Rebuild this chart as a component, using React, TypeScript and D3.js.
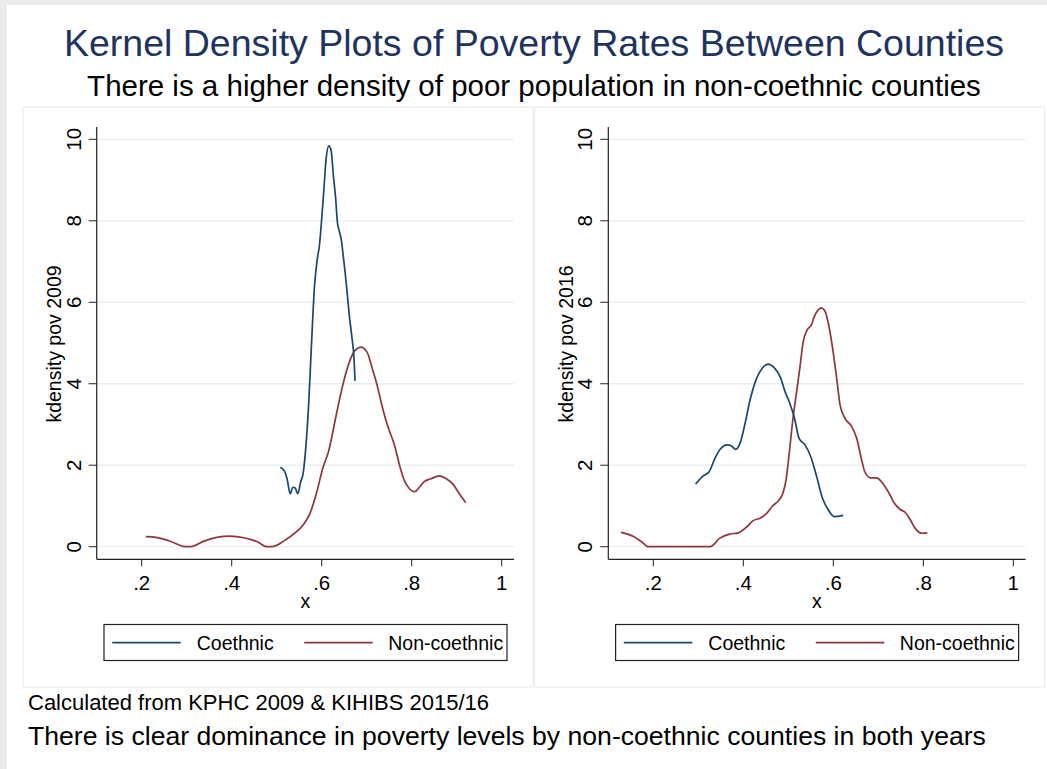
import React from "react";
import * as d3 from "d3";

const titleText = "Kernel Density Plots of Poverty Rates Between Counties";
const subtitleText = "There is a higher density of poor population in non-coethnic counties";
const noteText = "Calculated from KPHC 2009 & KIHIBS 2015/16";
const captionText = "There is clear dominance in poverty levels by non-coethnic counties in both years";

const xTicks = [0.2, 0.4, 0.6, 0.8, 1];
const xTickLabels = [".2", ".4", ".6", ".8", "1"];
const yTicks = [0, 2, 4, 6, 8, 10];
const seriesNames = ["Coethnic", "Non-coethnic"];
const panelYTitles = ["kdensity pov 2009", "kdensity pov 2016"];

const left2009CoethnicX = [0.508, 0.517, 0.523, 0.53, 0.536, 0.541, 0.547, 0.553, 0.559, 0.565, 0.571, 0.577, 0.584, 0.59, 0.595, 0.6, 0.605, 0.61, 0.616, 0.621, 0.626, 0.631, 0.635, 0.639, 0.644, 0.648, 0.652, 0.657, 0.661, 0.667, 0.672, 0.674];
const left2009CoethnicY = [1.95, 1.86, 1.67, 1.3, 1.46, 1.44, 1.3, 1.58, 1.82, 2.48, 3.5, 4.9, 6.4, 7.05, 7.4, 8.05, 8.8, 9.55, 9.84, 9.72, 9.1, 8.55, 7.95, 7.75, 7.5, 7.12, 6.74, 6.18, 5.71, 5.15, 4.58, 4.07];

const left2009NonX = [0.209, 0.232, 0.262, 0.292, 0.301, 0.313, 0.337, 0.367, 0.396, 0.427, 0.457, 0.478, 0.49, 0.517, 0.544, 0.56, 0.574, 0.588, 0.603, 0.615, 0.633, 0.648, 0.663, 0.674, 0.687, 0.701, 0.712, 0.723, 0.734, 0.742, 0.749, 0.761, 0.774, 0.783, 0.79, 0.798, 0.807, 0.817, 0.828, 0.843, 0.861, 0.877, 0.892, 0.906, 0.92];
const left2009NonY = [0.25, 0.23, 0.14, 0.01, 0.0, 0.01, 0.13, 0.23, 0.26, 0.22, 0.12, 0.0, 0.0, 0.15, 0.37, 0.55, 0.82, 1.3, 1.95, 2.33, 3.27, 4.02, 4.58, 4.82, 4.9, 4.77, 4.39, 3.97, 3.46, 3.13, 2.89, 2.52, 1.96, 1.64, 1.5, 1.39, 1.35, 1.46, 1.6, 1.67, 1.74, 1.67, 1.53, 1.3, 1.08];

const right2016CoethnicX = [0.294, 0.311, 0.324, 0.337, 0.35, 0.364, 0.374, 0.383, 0.394, 0.404, 0.415, 0.428, 0.442, 0.456, 0.468, 0.482, 0.493, 0.502, 0.513, 0.524, 0.537, 0.55, 0.563, 0.576, 0.589, 0.602, 0.622];
const right2016CoethnicY = [1.54, 1.74, 1.84, 2.17, 2.41, 2.5, 2.47, 2.39, 2.58, 3.03, 3.6, 4.09, 4.38, 4.48, 4.4, 4.17, 3.8, 3.56, 3.19, 2.66, 2.5, 2.21, 1.72, 1.19, 0.9, 0.74, 0.77];

const right2016NonX = [0.128, 0.156, 0.174, 0.189, 0.326, 0.348, 0.37, 0.389, 0.408, 0.422, 0.437, 0.452, 0.465, 0.478, 0.488, 0.495, 0.502, 0.51, 0.519, 0.526, 0.533, 0.542, 0.552, 0.557, 0.565, 0.573, 0.581, 0.589, 0.599, 0.608, 0.615, 0.626, 0.641, 0.652, 0.663, 0.67, 0.683, 0.696, 0.711, 0.726, 0.735, 0.748, 0.76, 0.771, 0.782, 0.797, 0.809];
const right2016NonY = [0.35, 0.25, 0.12, 0.0, 0.0, 0.21, 0.31, 0.34, 0.49, 0.64, 0.7, 0.82, 1.0, 1.13, 1.31, 1.64, 2.29, 3.11, 3.85, 4.42, 5.03, 5.32, 5.46, 5.63, 5.79, 5.86, 5.79, 5.48, 4.83, 4.09, 3.48, 3.15, 2.95, 2.66, 2.13, 1.84, 1.69, 1.69, 1.54, 1.27, 1.08, 0.92, 0.84, 0.66, 0.45, 0.33, 0.34];

const BLUE = "#1a476f";
const RED = "#90353b";
const FONT = "'Liberation Sans', Arial, Helvetica, sans-serif";

function zip(xs: number[], ys: number[]): [number, number][] {
  return xs.map((x, i) => [x, ys[i]]);
}

function Panel({ ox, yTitle, blue, red }: { ox: number; yTitle: string; blue: [number, number][]; red: [number, number][] }) {
  const x = d3.scaleLinear().domain([0.1, 1.0273]).range([ox + 96.7, ox + 514]);
  const y = d3.scaleLinear().domain([-0.309, 10.302]).range([559.3, 127]);
  const line = d3
    .line<[number, number]>()
    .x((d) => x(d[0]))
    .y((d) => y(d[1]))
    .curve(d3.curveMonotoneX);
  const [x0, x1] = x.range();
  const [yb, yt] = y.range();
  const legX = x0;
  return (
    <g>
      <rect x={ox + 23} y={107} width={510} height={580} fill="#ffffff" stroke="#e3ebee" strokeWidth={1} />
      {yTicks.map((t) => (
        <line key={"g" + t} x1={x0} x2={x1} y1={y(t)} y2={y(t)} stroke="#e8f0f2" strokeWidth={1.3} />
      ))}
      <line x1={x0} x2={x0} y1={yt} y2={yb} stroke="#222" strokeWidth={1.2} />
      <line x1={x0} x2={x1} y1={yb} y2={yb} stroke="#222" strokeWidth={1.2} />
      {yTicks.map((t) => (
        <g key={"yt" + t}>
          <line x1={x0 - 8} x2={x0} y1={y(t)} y2={y(t)} stroke="#222" strokeWidth={1} />
          <text
            transform={`translate(${x0 - 16},${y(t)}) rotate(-90)`}
            textAnchor="middle"
            fontSize={20.5}
            fontFamily={FONT}
            fill="#000"
          >
            {t}
          </text>
        </g>
      ))}
      {xTicks.map((t, i) => (
        <g key={"xt" + t}>
          <line x1={x(t)} x2={x(t)} y1={yb} y2={yb + 7} stroke="#222" strokeWidth={1} />
          <text x={x(t)} y={590} textAnchor="middle" fontSize={20.5} fontFamily={FONT} fill="#000">
            {xTickLabels[i]}
          </text>
        </g>
      ))}
      <text x={(x0 + x1) / 2} y={608} textAnchor="middle" fontSize={19.5} fontFamily={FONT} fill="#000">
        x
      </text>
      <text
        transform={`translate(${ox + 61},344) rotate(-90)`}
        textAnchor="middle"
        fontSize={19.5}
        fontFamily={FONT}
        fill="#000"
      >
        {yTitle}
      </text>
      <path d={line(red) || ""} fill="none" stroke={RED} strokeWidth={1.7} strokeLinejoin="round" />
      <path d={line(blue) || ""} fill="none" stroke={BLUE} strokeWidth={1.7} strokeLinejoin="round" />
      <rect x={legX + 7.3} y={624.5} width={403} height={36} fill="#fff" stroke="#222" strokeWidth={1.2} />
      <line x1={legX + 15.5} x2={legX + 84} y1={642.6} y2={642.6} stroke={BLUE} strokeWidth={1.7} />
      <text x={legX + 138.5} y={649.5} textAnchor="middle" fontSize={19.5} fontFamily={FONT} fill="#000">
        {seriesNames[0]}
      </text>
      <line x1={legX + 207.5} x2={legX + 276} y1={642.6} y2={642.6} stroke={RED} strokeWidth={1.7} />
      <text x={legX + 349} y={649.5} textAnchor="middle" fontSize={19.5} fontFamily={FONT} fill="#000">
        {seriesNames[1]}
      </text>
    </g>
  );
}

export default function App() {
  const W = 1047;
  const H = 769;
  return (
    <svg width={W} height={H} style={{ position: "absolute", left: 0, top: 0, background: "#fff" }}>
      <rect x={0} y={0} width={W} height={H} fill="#ffffff" />
      <rect x={0} y={0} width={7} height={H} fill="#ebebeb" />
      <rect x={0} y={0} width={W} height={5} fill="#ebebeb" />
      <text x={534} y={56} textAnchor="middle" fontSize={37.5} fontFamily={FONT} fill="#1f3361">
        {titleText}
      </text>
      <text x={534} y={96} textAnchor="middle" fontSize={29.5} fontFamily={FONT} fill="#000">
        {subtitleText}
      </text>
      <Panel ox={0} yTitle={panelYTitles[0]} blue={zip(left2009CoethnicX, left2009CoethnicY)} red={zip(left2009NonX, left2009NonY)} />
      <Panel ox={511.6} yTitle={panelYTitles[1]} blue={zip(right2016CoethnicX, right2016CoethnicY)} red={zip(right2016NonX, right2016NonY)} />
      <text x={28} y={710} fontSize={22} fontFamily={FONT} fill="#000">
        {noteText}
      </text>
      <text x={28} y={745} fontSize={26.6} fontFamily={FONT} fill="#000">
        {captionText}
      </text>
    </svg>
  );
}
